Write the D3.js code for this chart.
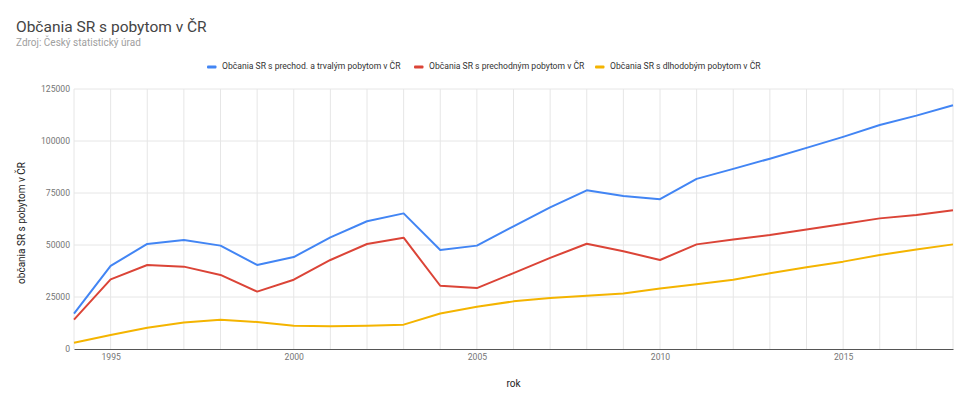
<!DOCTYPE html>
<html>
<head>
<meta charset="utf-8">
<script src="https://cdn.jsdelivr.net/npm/d3@7"></script>
<style>
  body { margin: 0; background: #fff; font-family: Roboto, "Noto Sans", sans-serif; }
</style>
</head>
<body>
<div id="chart"></div>
<script>
// Data
const years = d3.range(1994, 2019);
const total =     [17000, 40000, 50500, 52400, 49700, 40400, 44200, 53700, 61400, 65200, 47600, 49700, 59000, 68100, 76300, 73600, 72000, 81800, 86600, 91500, 96700, 102000, 107700, 112200, 117200];
const temporary = [14100, 33500, 40400, 39600, 35600, 27600, 33300, 42800, 50500, 53500, 30400, 29300, 36500, 43800, 50600, 47000, 42800, 50300, 52600, 54800, 57400, 60100, 62800, 64400, 66700];
const longterm =  [3000, 6700, 10200, 12700, 14100, 13000, 11200, 10900, 11200, 11700, 17100, 20300, 22900, 24500, 25600, 26700, 29100, 31100, 33300, 36400, 39300, 42000, 45200, 47800, 50300];
const seriesNames = [
  "Občania SR s prechod. a trvalým pobytom v ČR",
  "Občania SR s prechodným pobytom v ČR",
  "Občania SR s dlhodobým pobytom v ČR"
];
const colors = ["#4285f4", "#db4437", "#f4b400"];
const yTicks = [0, 25000, 50000, 75000, 100000, 125000];
const xTicks = [1995, 2000, 2005, 2010, 2015];

const width = 970, height = 399;
const margin = {top: 89, right: 17, bottom: 50, left: 74};

const svg = d3.select("#chart").append("svg")
  .attr("width", width)
  .attr("height", height);

const x = d3.scaleLinear().domain([1994, 2018]).range([margin.left, width - margin.right]);
const y = d3.scaleLinear().domain([0, 125000]).range([height - margin.bottom, margin.top]);

// Titulok
svg.append("text")
  .attr("x", 16).attr("y", 31.5)
  .attr("font-size", 15.5)
  .attr("fill", "#444")
  .text("Občania SR s pobytom v ČR");
svg.append("text")
  .attr("x", 16).attr("y", 46)
  .attr("font-size", 10)
  .attr("fill", "#a0a0a0")
  .text("Zdroj: Český statistický úrad");

// Mriežka
svg.append("g")
  .selectAll("line")
  .data(years)
  .join("line")
  .attr("x1", d => x(d)).attr("x2", d => x(d))
  .attr("y1", margin.top).attr("y2", height - margin.bottom)
  .attr("stroke", "#e6e6e6");
svg.append("g")
  .selectAll("line")
  .data(yTicks.slice(1))
  .join("line")
  .attr("x1", margin.left).attr("x2", width - margin.right)
  .attr("y1", d => y(d)).attr("y2", d => y(d))
  .attr("stroke", "#e6e6e6");

// Osi
const yAxis = svg.append("g")
  .attr("transform", `translate(${margin.left},0)`)
  .call(d3.axisLeft(y).tickValues(yTicks).tickSize(0).tickPadding(4).tickFormat(d3.format("d")));
yAxis.select(".domain").remove();
yAxis.selectAll("text").attr("font-size", 8.6).attr("fill", "#757575").attr("font-family", "Roboto, sans-serif");

const xAxis = svg.append("g")
  .attr("transform", `translate(0,${height - margin.bottom})`)
  .call(d3.axisBottom(x).tickValues(xTicks).tickSize(0).tickPadding(5).tickFormat(d3.format("d")));
xAxis.select(".domain").attr("stroke", "#555");
xAxis.selectAll("text").attr("font-size", 8.6).attr("fill", "#757575").attr("font-family", "Roboto, sans-serif");

svg.append("text")
  .attr("x", (margin.left + width - margin.right) / 2)
  .attr("y", 386.5)
  .attr("text-anchor", "middle")
  .attr("font-size", 10)
  .attr("fill", "#222")
  .text("rok");
svg.append("text")
  .attr("transform", `translate(25,${(margin.top + height - margin.bottom) / 2 + 4}) rotate(-90)`)
  .attr("text-anchor", "middle")
  .attr("font-size", 10)
  .attr("fill", "#222")
  .text("občania SR s pobytom v ČR");

// Čiary
const line = d3.line().x((d, i) => x(years[i])).y(d => y(d));
svg.append("g")
  .selectAll("path")
  .data([total, temporary, longterm])
  .join("path")
  .attr("d", line)
  .attr("fill", "none")
  .attr("stroke", (d, i) => colors[i])
  .attr("stroke-width", 2)
  .attr("stroke-linejoin", "round");

// Legenda
const legendX = [207, 414, 595];
const legend = svg.append("g").attr("transform", "translate(0,67)");
legend.selectAll("g")
  .data(seriesNames)
  .join("g")
  .attr("transform", (d, i) => `translate(${legendX[i]},0)`)
  .call(g => {
    g.append("rect")
      .attr("x", 0).attr("y", -1.5)
      .attr("width", 9.5).attr("height", 3)
      .attr("rx", 1)
      .attr("fill", (d, i) => colors[i]);
    g.append("text")
      .attr("x", 15)
      .attr("dominant-baseline", "middle")
      .attr("font-size", 8.6)
      .attr("fill", "#333")
      .text(d => d);
  });
</script>
</body>
</html>
